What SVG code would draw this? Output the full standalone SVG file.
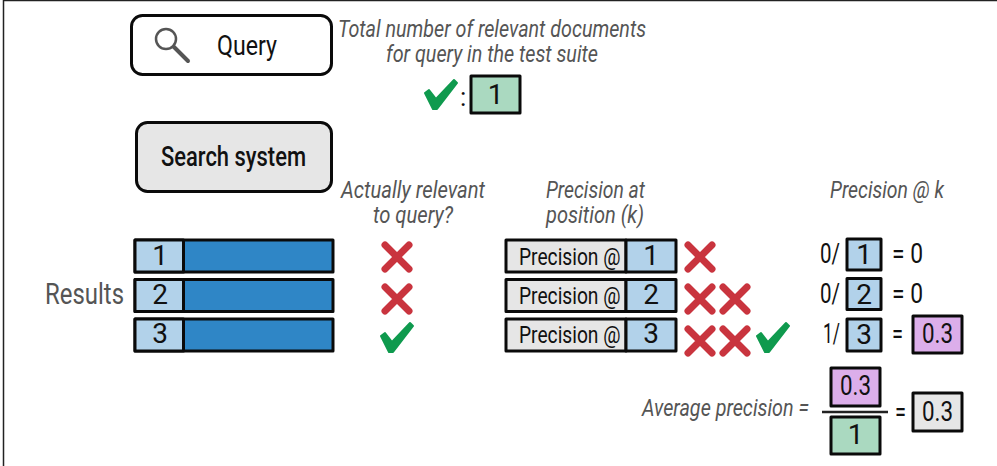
<svg xmlns="http://www.w3.org/2000/svg" width="997" height="466" viewBox="0 0 997 466">
<defs>
<style>
text{font-family:Roboto,"Open Sans",sans-serif;fill:#111;font-weight:400}
.m{font-size:28px;text-anchor:middle}
.i{font-size:24px;font-style:italic;fill:#555}
.p{font-size:24px}
.box{stroke:#0a0a0a;stroke-width:3;stroke-linejoin:round}
.lb{fill:#b2d2ea}.db{fill:#2f86c6}.gy{fill:#e6e6e6}.gr{fill:#aad9c0}.pu{fill:#dcaeea}
.x{fill:none;stroke:#c9343e;stroke-width:7;stroke-linecap:round}
.c{fill:#0f9a4e;stroke:#0f9a4e;stroke-width:2;stroke-linejoin:round}
</style>
<path id="cross" class="x" d="M-12,-12L12,12M12,-12L-12,12"/>
<path id="check" class="c" d="M-16,-2L-12,-5L-5,4L13,-15L16,-12L-4,14L-8,14Z"/>
</defs>
<rect width="997" height="466" fill="#fff"/>
<path d="M3.500,466V0.500H997" fill="none" stroke="#222" stroke-width="1.500"/>
<g id="connectors"/>
<g id="query">
<rect class="box" x="131.500" y="15.500" width="200" height="59" rx="11" fill="#fff"/>
<circle cx="166" cy="39" r="10" fill="none" stroke="#555" stroke-width="2.500"/>
<path d="M174,47L188,61" stroke="#555" stroke-width="4" stroke-linecap="round"/>
<text x="217" y="55" font-size="28" textLength="60" lengthAdjust="spacingAndGlyphs">Query</text>
</g>
<g id="search-system">
<rect class="box gy" x="136.500" y="122.500" width="195" height="69" rx="11"/>
<text x="161" y="166" font-size="28" style="font-weight:500" textLength="145" lengthAdjust="spacingAndGlyphs">Search system</text>
</g>
<g id="total-label">
<text class="i" x="338" y="37" textLength="308" lengthAdjust="spacingAndGlyphs">Total number of relevant documents</text>
<text class="i" x="386" y="62" textLength="212" lengthAdjust="spacingAndGlyphs">for query in the test suite</text>
<use href="#check" x="441" y="95"/>
<text x="460" y="106" font-size="26">:</text>
<rect class="box gr" x="471" y="76" width="49" height="37"/>
<text class="m" x="495.500" y="104">1</text>
</g>
<g id="results">
<text x="45" y="304" font-size="29" style="fill:#555" textLength="79" lengthAdjust="spacingAndGlyphs">Results</text>
<g id="result-1"><rect class="box db" x="135" y="240" width="198" height="32"/><rect class="box lb" x="135" y="240" width="48.500" height="32"/><text class="m" x="160" y="265">1</text></g>
<g id="result-2"><rect class="box db" x="135" y="279.500" width="198" height="32"/><rect class="box lb" x="135" y="279.500" width="48.500" height="32"/><text class="m" x="160" y="304">2</text></g>
<g id="result-3"><rect class="box db" x="135" y="319" width="198" height="32"/><rect class="box lb" x="135" y="319" width="48.500" height="32"/><text class="m" x="160" y="343">3</text></g>
</g>
<g id="relevant">
<text class="i" x="341" y="198" textLength="144" lengthAdjust="spacingAndGlyphs">Actually relevant</text>
<text class="i" x="373" y="223" textLength="80" lengthAdjust="spacingAndGlyphs">to query?</text>
<use href="#cross" x="397" y="257"/>
<use href="#cross" x="397" y="299"/>
<use href="#check" x="397" y="338"/>
</g>
<g id="precision-at">
<text class="i" x="546" y="198" textLength="99" lengthAdjust="spacingAndGlyphs">Precision at</text>
<text class="i" x="546" y="223" textLength="98" lengthAdjust="spacingAndGlyphs">position (k)</text>
<g id="p1"><rect class="box gy" x="506" y="240" width="120" height="32"/><rect class="box lb" x="626" y="240" width="50" height="32"/><text class="p" transform="translate(519 265) scale(.8 1)">Precision @</text><text class="m" x="651" y="265">1</text></g>
<g id="p2"><rect class="box gy" x="506" y="279.500" width="120" height="32"/><rect class="box lb" x="626" y="279.500" width="50" height="32"/><text class="p" transform="translate(519 304) scale(.8 1)">Precision @</text><text class="m" x="651" y="304">2</text></g>
<g id="p3"><rect class="box gy" x="506" y="319" width="120" height="32"/><rect class="box lb" x="626" y="319" width="50" height="32"/><text class="p" transform="translate(519 343) scale(.8 1)">Precision @</text><text class="m" x="651" y="343">3</text></g>
<use href="#cross" x="700" y="257"/>
<use href="#cross" x="700" y="299"/><use href="#cross" x="735" y="299"/>
<use href="#cross" x="700" y="341"/><use href="#cross" x="735" y="341"/><use href="#check" x="773" y="338"/>
</g>
<g id="precision-k">
<text class="i" x="830" y="198" textLength="114" lengthAdjust="spacingAndGlyphs">Precision @ k</text>
<text x="820" y="263" font-size="28" textLength="20" lengthAdjust="spacingAndGlyphs">0/</text>
<rect class="box lb" x="847" y="239" width="34" height="31"/><text class="m" x="864" y="264">1</text>
<text x="892" y="263" font-size="28" textLength="31" lengthAdjust="spacingAndGlyphs">= 0</text>
<text x="820" y="303" font-size="28" textLength="20" lengthAdjust="spacingAndGlyphs">0/</text>
<rect class="box lb" x="847" y="278.500" width="34" height="31"/><text class="m" x="864" y="304">2</text>
<text x="892" y="303" font-size="28" textLength="31" lengthAdjust="spacingAndGlyphs">= 0</text>
<text x="823" y="343" font-size="28" textLength="17" lengthAdjust="spacingAndGlyphs">1/</text>
<rect class="box lb" x="847" y="319" width="34" height="32"/><text class="m" x="864" y="344">3</text>
<text x="892" y="343" font-size="28" textLength="11" lengthAdjust="spacingAndGlyphs">=</text>
<rect class="box pu" x="913" y="316" width="49" height="37"/><text class="m" x="937.500" y="343" textLength="31" lengthAdjust="spacingAndGlyphs">0.3</text>
</g>
<g id="average">
<text class="i" x="642" y="416" textLength="167" lengthAdjust="spacingAndGlyphs">Average precision =</text>
<rect class="box pu" x="831" y="368" width="49" height="38"/><text class="m" x="855.500" y="395" textLength="31" lengthAdjust="spacingAndGlyphs">0.3</text>
<path d="M822,412H888" stroke="#222" stroke-width="2.500"/>
<rect class="box gr" x="831" y="417" width="49" height="37"/><text class="m" x="855.500" y="444">1</text>
<text x="895" y="421" font-size="28" textLength="11" lengthAdjust="spacingAndGlyphs">=</text>
<rect class="box gy" x="913" y="393" width="49" height="38"/><text class="m" x="937.500" y="421" textLength="31" lengthAdjust="spacingAndGlyphs">0.3</text>
</g>
</svg>
